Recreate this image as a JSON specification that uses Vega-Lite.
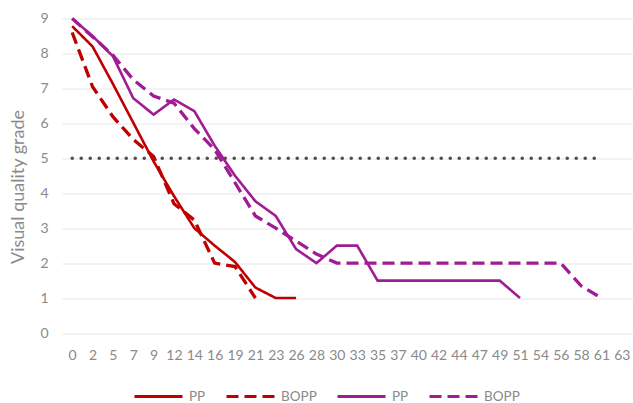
{
  "$schema": "https://vega.github.io/schema/vega-lite/v6.json",
  "width": 570,
  "height": 314.5,
  "autosize": {"type": "none"},
  "padding": {"left": 62, "top": 18.5, "right": 1, "bottom": 70},
  "background": "white",
  "config": {
    "font": "Lato",
    "view": {"stroke": null},
    "axis": {"labelColor": "#8a8a8a", "titleColor": "#8a8a8a", "labelFontSize": 14, "titleFontSize": 18, "titleFontWeight": "normal", "labelFont": "Lato", "titleFont": "Lato"},
    "legend": {"orient": "none", "legendX": 71, "legendY": 352.5, "direction": "horizontal", "title": null, "symbolType": "stroke", "symbolSize": 2304, "symbolStrokeWidth": 3, "labelFontSize": 13.5, "labelColor": "#8a8a8a", "labelFont": "Lato", "columnPadding": 14, "labelOffset": 5}
  },
  "datasets": {
    "series": [
      {"day": 0, "series": "PP red", "value": 8.78},
      {"day": 2, "series": "PP red", "value": 8.2},
      {"day": 5, "series": "PP red", "value": 7.13},
      {"day": 7, "series": "PP red", "value": 6.02},
      {"day": 9, "series": "PP red", "value": 4.91},
      {"day": 12, "series": "PP red", "value": 3.92},
      {"day": 14, "series": "PP red", "value": 3.0},
      {"day": 16, "series": "PP red", "value": 2.5},
      {"day": 19, "series": "PP red", "value": 2.03},
      {"day": 21, "series": "PP red", "value": 1.3},
      {"day": 23, "series": "PP red", "value": 1.0},
      {"day": 26, "series": "PP red", "value": 1.0},
      {"day": 0, "series": "BOPP red", "value": 8.6},
      {"day": 2, "series": "BOPP red", "value": 7.05},
      {"day": 5, "series": "BOPP red", "value": 6.19},
      {"day": 7, "series": "BOPP red", "value": 5.54},
      {"day": 9, "series": "BOPP red", "value": 5.05},
      {"day": 12, "series": "BOPP red", "value": 3.7},
      {"day": 14, "series": "BOPP red", "value": 3.23},
      {"day": 16, "series": "BOPP red", "value": 2.0},
      {"day": 19, "series": "BOPP red", "value": 1.9},
      {"day": 21, "series": "BOPP red", "value": 1.0},
      {"day": 0, "series": "PP purple", "value": 9.0},
      {"day": 2, "series": "PP purple", "value": 8.5},
      {"day": 5, "series": "PP purple", "value": 7.92},
      {"day": 7, "series": "PP purple", "value": 6.72},
      {"day": 9, "series": "PP purple", "value": 6.25},
      {"day": 12, "series": "PP purple", "value": 6.68},
      {"day": 14, "series": "PP purple", "value": 6.35},
      {"day": 16, "series": "PP purple", "value": 5.36},
      {"day": 19, "series": "PP purple", "value": 4.5},
      {"day": 21, "series": "PP purple", "value": 3.77},
      {"day": 23, "series": "PP purple", "value": 3.35},
      {"day": 26, "series": "PP purple", "value": 2.4},
      {"day": 28, "series": "PP purple", "value": 2.0},
      {"day": 30, "series": "PP purple", "value": 2.5},
      {"day": 33, "series": "PP purple", "value": 2.5},
      {"day": 35, "series": "PP purple", "value": 1.5},
      {"day": 37, "series": "PP purple", "value": 1.5},
      {"day": 40, "series": "PP purple", "value": 1.5},
      {"day": 42, "series": "PP purple", "value": 1.5},
      {"day": 44, "series": "PP purple", "value": 1.5},
      {"day": 47, "series": "PP purple", "value": 1.5},
      {"day": 49, "series": "PP purple", "value": 1.5},
      {"day": 51, "series": "PP purple", "value": 1.0},
      {"day": 0, "series": "BOPP purple", "value": 9.0},
      {"day": 2, "series": "BOPP purple", "value": 8.48},
      {"day": 5, "series": "BOPP purple", "value": 7.95},
      {"day": 7, "series": "BOPP purple", "value": 7.25},
      {"day": 9, "series": "BOPP purple", "value": 6.78},
      {"day": 12, "series": "BOPP purple", "value": 6.58},
      {"day": 14, "series": "BOPP purple", "value": 5.85},
      {"day": 16, "series": "BOPP purple", "value": 5.25},
      {"day": 19, "series": "BOPP purple", "value": 4.3},
      {"day": 21, "series": "BOPP purple", "value": 3.35},
      {"day": 23, "series": "BOPP purple", "value": 3.0},
      {"day": 26, "series": "BOPP purple", "value": 2.63},
      {"day": 28, "series": "BOPP purple", "value": 2.26},
      {"day": 30, "series": "BOPP purple", "value": 2.0},
      {"day": 33, "series": "BOPP purple", "value": 2.0},
      {"day": 35, "series": "BOPP purple", "value": 2.0},
      {"day": 37, "series": "BOPP purple", "value": 2.0},
      {"day": 40, "series": "BOPP purple", "value": 2.0},
      {"day": 42, "series": "BOPP purple", "value": 2.0},
      {"day": 44, "series": "BOPP purple", "value": 2.0},
      {"day": 47, "series": "BOPP purple", "value": 2.0},
      {"day": 49, "series": "BOPP purple", "value": 2.0},
      {"day": 51, "series": "BOPP purple", "value": 2.0},
      {"day": 54, "series": "BOPP purple", "value": 2.0},
      {"day": 56, "series": "BOPP purple", "value": 2.0},
      {"day": 58, "series": "BOPP purple", "value": 1.35},
      {"day": 61, "series": "BOPP purple", "value": 1.0}
    ],
    "ref": [
      {"day": 0, "value": 5}, {"day": 2, "value": 5}, {"day": 5, "value": 5}, {"day": 7, "value": 5},
      {"day": 9, "value": 5}, {"day": 12, "value": 5}, {"day": 14, "value": 5}, {"day": 16, "value": 5},
      {"day": 19, "value": 5}, {"day": 21, "value": 5}, {"day": 23, "value": 5}, {"day": 26, "value": 5},
      {"day": 28, "value": 5}, {"day": 30, "value": 5}, {"day": 33, "value": 5}, {"day": 35, "value": 5},
      {"day": 37, "value": 5}, {"day": 40, "value": 5}, {"day": 42, "value": 5}, {"day": 44, "value": 5},
      {"day": 47, "value": 5}, {"day": 49, "value": 5}, {"day": 51, "value": 5}, {"day": 54, "value": 5},
      {"day": 56, "value": 5}, {"day": 58, "value": 5}, {"day": 61, "value": 5}
    ]
  },
  "encoding": {
    "x": {
      "field": "day", "type": "ordinal",
      "scale": {"type": "point", "padding": 0.5, "domain": [0, 2, 5, 7, 9, 12, 14, 16, 19, 21, 23, 26, 28, 30, 33, 35, 37, 40, 42, 44, 47, 49, 51, 54, 56, 58, 61, 63]},
      "axis": {"title": null, "labelAngle": 0, "ticks": false, "domain": false, "grid": false, "labelPadding": 15}
    },
    "y": {
      "field": "value", "type": "quantitative",
      "scale": {"domain": [0, 9], "nice": false},
      "axis": {"title": "Visual quality grade", "values": [0, 1, 2, 3, 4, 5, 6, 7, 8, 9], "ticks": false, "domain": false, "gridColor": "#e6e6e6", "gridWidth": 1, "labelPadding": 14, "titlePadding": 12, "titleY": 168}
    }
  },
  "layer": [
    {
      "data": {"name": "ref"},
      "mark": {"type": "line", "color": "#505050", "strokeWidth": 3.5, "strokeDash": [0.1, 8.9], "strokeCap": "round"}
    },
    {
      "data": {"name": "series"},
      "transform": [{"filter": "indexof(datum.series, 'BOPP') < 0"}],
      "mark": {"type": "line", "strokeWidth": 2.6},
      "encoding": {
        "color": {
          "field": "series", "type": "nominal",
          "scale": {"domain": ["PP red", "BOPP red", "PP purple", "BOPP purple"], "range": ["#C00000", "#C00000", "#A01C94", "#A01C94"]},
          "legend": {"labelExpr": "split(datum.label, ' ')[0]"}
        },
        "strokeDash": {
          "field": "series", "type": "nominal",
          "scale": {"domain": ["PP red", "BOPP red", "PP purple", "BOPP purple"], "range": [[1, 0], [12, 6], [1, 0], [12, 6]]},
          "legend": {"labelExpr": "split(datum.label, ' ')[0]"}
        }
      }
    },
    {
      "data": {"name": "series"},
      "transform": [{"filter": "indexof(datum.series, 'BOPP') >= 0"}],
      "mark": {"type": "line", "strokeWidth": 3.3},
      "encoding": {
        "color": {
          "field": "series", "type": "nominal",
          "scale": {"domain": ["PP red", "BOPP red", "PP purple", "BOPP purple"], "range": ["#C00000", "#C00000", "#A01C94", "#A01C94"]},
          "legend": {"labelExpr": "split(datum.label, ' ')[0]"}
        },
        "strokeDash": {
          "field": "series", "type": "nominal",
          "scale": {"domain": ["PP red", "BOPP red", "PP purple", "BOPP purple"], "range": [[1, 0], [12, 6], [1, 0], [12, 6]]},
          "legend": {"labelExpr": "split(datum.label, ' ')[0]"}
        }
      }
    }
  ]
}
